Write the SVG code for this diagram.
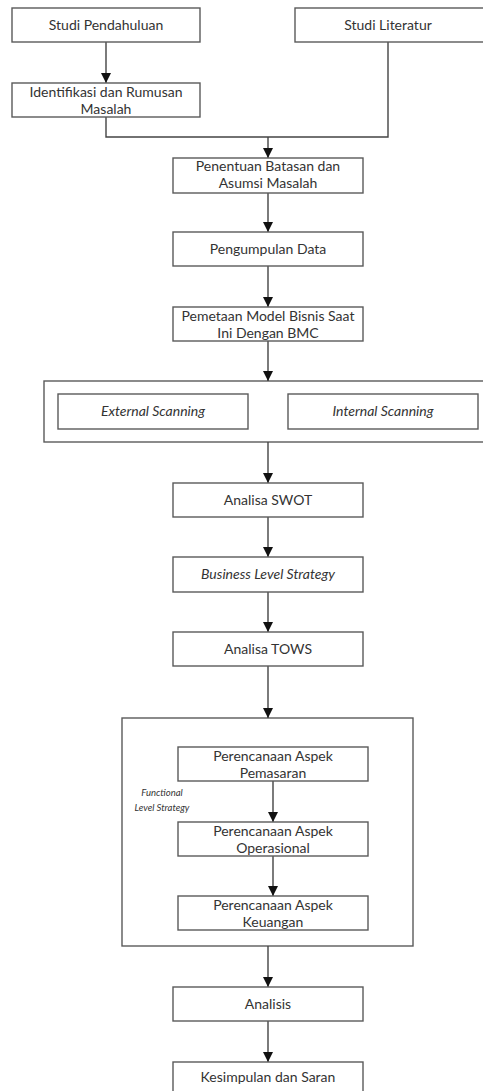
<svg xmlns="http://www.w3.org/2000/svg" width="483" height="1091" viewBox="0 0 483 1091">
<style>
.box{fill:#fff;stroke:#5a5a5a;stroke-width:1.4}
.grp{fill:none;stroke:#5a5a5a;stroke-width:1.4}
.t{font-family:Lato,"Liberation Sans",sans-serif;font-size:14px;fill:#333;text-anchor:middle}
.i{font-style:italic}
.s{font-size:9.5px}
.c{fill:none;stroke:#444;stroke-width:1.4}
</style>
<defs>
<marker id="ah" markerUnits="userSpaceOnUse" markerWidth="10" markerHeight="10" refX="10" refY="5" orient="auto">
<path d="M0,0 L10,5 L0,10 z" fill="#111"/>
</marker>
</defs>
<rect width="483" height="1091" fill="#fff"/>
<g id="scanning-group"><rect class="grp" x="44" y="381" width="450" height="61"/></g>
<g id="functional-group"><rect class="grp" x="122" y="718" width="291" height="228"/><text class="t i s" x="162" y="796">Functional</text><text class="t i s" x="162" y="811">Level Strategy</text></g>
<g id="connectors">
<path class="c" d="M106,42 V83" marker-end="url(#ah)"/>
<path class="c" d="M106,117 V137 H388 V42"/>
<path class="c" d="M268,137 V158" marker-end="url(#ah)"/>
<path class="c" d="M268,193 V232" marker-end="url(#ah)"/>
<path class="c" d="M268,266 V307" marker-end="url(#ah)"/>
<path class="c" d="M268,341 V381" marker-end="url(#ah)"/>
<path class="c" d="M268,442 V483" marker-end="url(#ah)"/>
<path class="c" d="M268,517 V557" marker-end="url(#ah)"/>
<path class="c" d="M268,592 V632" marker-end="url(#ah)"/>
<path class="c" d="M268,666 V718" marker-end="url(#ah)"/>
<path class="c" d="M273,781 V822" marker-end="url(#ah)"/>
<path class="c" d="M273,856 V896" marker-end="url(#ah)"/>
<path class="c" d="M268,946 V987" marker-end="url(#ah)"/>
<path class="c" d="M268,1021 V1062" marker-end="url(#ah)"/>
</g>
<g id="studi-pendahuluan"><rect class="box" x="12" y="8" width="188" height="34"/><text class="t" x="106" y="30">Studi Pendahuluan</text></g>
<g id="studi-literatur"><rect class="box" x="295" y="8" width="195" height="34"/><text class="t" x="388" y="30">Studi Literatur</text></g>
<g id="identifikasi"><rect class="box" x="12" y="83" width="188" height="34"/><text class="t" x="106" y="97">Identifikasi dan Rumusan</text><text class="t" x="106" y="114">Masalah</text></g>
<g id="penentuan"><rect class="box" x="173" y="158" width="190" height="35"/><text class="t" x="268" y="171">Penentuan Batasan dan</text><text class="t" x="268" y="188">Asumsi Masalah</text></g>
<g id="pengumpulan"><rect class="box" x="173" y="232" width="190" height="34"/><text class="t" x="268" y="254">Pengumpulan Data</text></g>
<g id="pemetaan"><rect class="box" x="173" y="307" width="190" height="34"/><text class="t" x="268" y="321">Pemetaan Model Bisnis Saat</text><text class="t" x="268" y="338">Ini Dengan BMC</text></g>
<g id="external-scanning"><rect class="box" x="58" y="394" width="190" height="35"/><text class="t i" x="153" y="416">External Scanning</text></g>
<g id="internal-scanning"><rect class="box" x="288" y="394" width="190" height="35"/><text class="t i" x="383" y="416">Internal Scanning</text></g>
<g id="analisa-swot"><rect class="box" x="173" y="483" width="190" height="34"/><text class="t" x="268" y="505">Analisa SWOT</text></g>
<g id="business-level"><rect class="box" x="173" y="557" width="190" height="35"/><text class="t i" x="268" y="579">Business Level Strategy</text></g>
<g id="analisa-tows"><rect class="box" x="173" y="632" width="190" height="34"/><text class="t" x="268" y="654">Analisa TOWS</text></g>
<g id="pemasaran"><rect class="box" x="178" y="747" width="190" height="34"/><text class="t" x="273" y="761">Perencanaan Aspek</text><text class="t" x="273" y="778">Pemasaran</text></g>
<g id="operasional"><rect class="box" x="178" y="822" width="190" height="34"/><text class="t" x="273" y="836">Perencanaan Aspek</text><text class="t" x="273" y="853">Operasional</text></g>
<g id="keuangan"><rect class="box" x="178" y="896" width="190" height="34"/><text class="t" x="273" y="910">Perencanaan Aspek</text><text class="t" x="273" y="927">Keuangan</text></g>
<g id="analisis"><rect class="box" x="173" y="987" width="190" height="34"/><text class="t" x="268" y="1009">Analisis</text></g>
<g id="kesimpulan"><rect class="box" x="173" y="1062" width="190" height="40"/><text class="t" x="268" y="1082">Kesimpulan dan Saran</text></g>
</svg>
